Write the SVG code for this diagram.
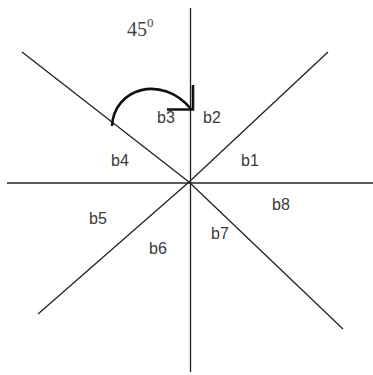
<svg xmlns="http://www.w3.org/2000/svg" width="373" height="375" viewBox="0 0 373 375">
<style>
.ax{stroke:#222;stroke-width:1.3;fill:none}
.lbl{font-family:"Liberation Sans",Arial,sans-serif;font-size:16px;fill:#3a3a3a}
.arc{stroke:#111;stroke-width:2.6;fill:none}
</style>
<rect width="373" height="375" fill="#fff"/>
<g id="connectors">
<line class="ax" x1="190.5" y1="8" x2="190.5" y2="372"/>
<line class="ax" x1="7" y1="183" x2="373" y2="183"/>
<polyline class="ax" points="22,52 189,182 343,329"/>
<polyline class="ax" points="328,52 189,182 38,314"/>
</g>
<g id="angle-arrow">
<path class="arc" d="M112,126 C114,88 162,74 191,109"/>
<path class="arc" d="M193,85 L193,109.5 L167,109.5"/>
</g>
<g id="angle-label">
<text x="127" y="36" font-family="'Liberation Serif','Times New Roman',serif" font-size="20" fill="#444">45<tspan dy="-9" font-size="13">0</tspan></text>
</g>
<g id="b1"><text class="lbl" x="241" y="166">b1</text></g>
<g id="b2"><text class="lbl" x="203" y="123">b2</text></g>
<g id="b3"><text class="lbl" x="157" y="123">b3</text></g>
<g id="b4"><text class="lbl" x="111" y="166">b4</text></g>
<g id="b5"><text class="lbl" x="89" y="224">b5</text></g>
<g id="b6"><text class="lbl" x="149" y="254">b6</text></g>
<g id="b7"><text class="lbl" x="211" y="239">b7</text></g>
<g id="b8"><text class="lbl" x="272" y="210">b8</text></g>
</svg>
